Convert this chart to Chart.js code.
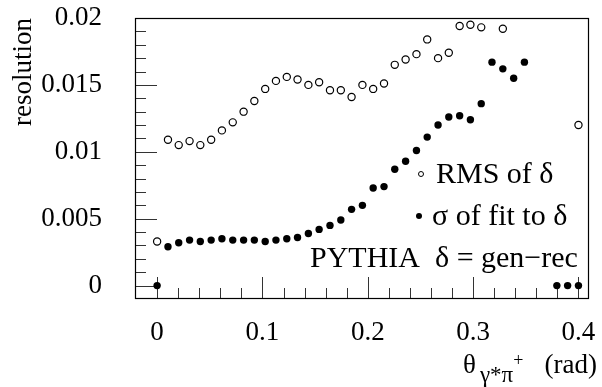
<!DOCTYPE html>
<html>
<head>
<meta charset="utf-8">
<script src="https://cdn.jsdelivr.net/npm/chart.js@4"></script>
<style>
body { margin: 0; background: #fff; }
#wrap { width: 602px; height: 387px; }
</style>
</head>
<body>
<div id="wrap"><canvas id="resChart" width="602" height="387"></canvas></div>
<script>
// Resolution vs theta (PYTHIA)

const theta = [
    0, 0.0103, 0.0205, 0.0308, 0.0410, 0.0513, 0.0615, 0.0718, 0.0821, 0.0923,
    0.1026, 0.1128, 0.1231, 0.1333, 0.1436, 0.1538, 0.1641, 0.1744, 0.1846, 0.1949,
    0.2051, 0.2154, 0.2256, 0.2359, 0.2462, 0.2564, 0.2667, 0.2769, 0.2872, 0.2974,
    0.3077, 0.3179, 0.3282, 0.3385, 0.3487, 0.3590, 0.3692, 0.3795, 0.3897, 0.4000
];

const rmsDelta = [
    0.0033, 0.0109, 0.0105, 0.0108, 0.0105, 0.0109, 0.0116, 0.0122, 0.0130, 0.0138,
    0.0147, 0.0153, 0.0156, 0.0154, 0.0150, 0.0152, 0.0146, 0.0146, 0.0141, 0.0150,
    0.0147, 0.0151, 0.0165, 0.0169, 0.0173, 0.0184, 0.0170, 0.0174, 0.0194, 0.0195,
    0.0193, null, 0.0192, null, null, null, null, null, null, 0.0120
];

const sigmaFit = [
    0, 0.0029, 0.0032, 0.0034, 0.0033, 0.0034, 0.0035, 0.0034, 0.0034, 0.0034,
    0.0033, 0.0034, 0.0035, 0.0036, 0.0039, 0.0042, 0.0045, 0.0049, 0.0057, 0.0060,
    0.0073, 0.0074, 0.0087, 0.0093, 0.0101, 0.0111, 0.0120, 0.0126, 0.0127, 0.0124,
    0.0136, 0.0167, 0.0162, 0.0155, 0.0167, null, null, 0, 0, 0
];

const legendLabels = ["RMS of δ", "σ of fit to δ", "PYTHIA  δ = gen−rec"];

const serif = "'Liberation Serif', 'Times New Roman', serif";

function toPoints(values) {
    return theta.map((t, i) => ({ x: t, y: values[i] }));
}

function fmt(v) {
    return String(parseFloat(v.toFixed(4)));
}

// inner ticks, frame and text
const rootStyle = {
    id: "rootStyle",
    beforeDatasetsDraw(chart) {
        const { ctx, chartArea: a, scales: { x, y } } = chart;
        ctx.save();
        ctx.strokeStyle = "#333";
        ctx.lineWidth = 1;
        ctx.beginPath();
        for (let k = 0; k <= 20; k++) {
            const px = Math.round(x.getPixelForValue(k * 0.02)) + 0.5;
            const len = k % 5 === 0 ? 22 : 11;
            ctx.moveTo(px, a.bottom);
            ctx.lineTo(px, a.bottom - len);
        }
        for (let k = 0; k <= 20; k++) {
            const py = Math.round(y.getPixelForValue(k * 0.001)) + 0.5;
            const len = k % 5 === 0 ? 22 : 11;
            ctx.moveTo(a.left, py);
            ctx.lineTo(a.left + len, py);
        }
        ctx.stroke();
        ctx.strokeStyle = "#000";
        ctx.lineWidth = 1.2;
        ctx.strokeRect(a.left + 0.5, a.top + 0.5, a.width - 1, a.height - 1);
        ctx.restore();
    },
    afterDraw(chart) {
        const ctx = chart.ctx;
        ctx.save();
        ctx.fillStyle = "#000";
        ctx.strokeStyle = "#000";
        ctx.textBaseline = "alphabetic";

        // legend
        ctx.font = "30px " + serif;
        ctx.fillText(legendLabels[0], 436, 183);
        ctx.fillText(legendLabels[1], 432, 225);
        ctx.fillText(legendLabels[2], 310, 267);
        ctx.lineWidth = 1;
        ctx.beginPath();
        ctx.arc(421, 174, 2.5, 0, 2 * Math.PI);
        ctx.stroke();
        ctx.beginPath();
        ctx.arc(419, 216, 3, 0, 2 * Math.PI);
        ctx.fill();

        // x title
        let xpos = 463;
        ctx.font = "27px " + serif;
        ctx.fillText("θ", xpos, 373);
        xpos += ctx.measureText("θ").width + 4;
        ctx.font = "23px " + serif;
        ctx.fillText("γ*π", xpos, 382);
        xpos += ctx.measureText("γ*π").width;
        ctx.font = "18px " + serif;
        ctx.fillText("+", xpos, 366);
        ctx.font = "27px " + serif;
        ctx.textAlign = "right";
        ctx.fillText("(rad)", 597, 373);
        ctx.restore();
    }
};

const chart = new Chart(document.getElementById("resChart"), {
    type: "scatter",
    data: {
        datasets: [
            {
                label: legendLabels[0],
                data: toPoints(rmsDelta),
                pointStyle: "circle",
                pointRadius: 3.6,
                borderWidth: 1.2,
                borderColor: "#000",
                backgroundColor: "rgba(255,255,255,0)"
            },
            {
                label: legendLabels[1],
                data: toPoints(sigmaFit),
                pointStyle: "circle",
                pointRadius: 3.7,
                borderWidth: 0,
                borderColor: "#000",
                backgroundColor: "#000"
            }
        ]
    },
    options: {
        responsive: false,
        animation: false,
        layout: { padding: { top: 18, right: 13, left: 0, bottom: 0 } },
        plugins: {
            legend: { display: false },
            tooltip: { enabled: false }
        },
        scales: {
            x: {
                type: "linear",
                min: -0.021,
                max: 0.41,
                grid: { display: false, drawTicks: false },
                border: { display: false },
                ticks: {
                    stepSize: 0.1,
                    includeBounds: false,
                    padding: 18,
                    color: "#000",
                    font: { family: serif, size: 27 },
                    callback: (v) => fmt(v)
                },
                afterFit: (s) => {
                    s.height = 88;
                    s.paddingLeft = 0;
                    s.paddingRight = 0;
                }
            },
            y: {
                min: -0.001,
                max: 0.02,
                grid: { display: false, drawTicks: false },
                border: { display: false },
                title: {
                    display: true,
                    text: "resolution",
                    align: "end",
                    color: "#000",
                    padding: { top: 8, bottom: 0 },
                    font: { family: serif, size: 27 }
                },
                ticks: {
                    stepSize: 0.005,
                    includeBounds: false,
                    padding: 33,
                    color: "#000",
                    font: { family: serif, size: 27 },
                    callback: (v) => fmt(v)
                },
                afterFit: (s) => {
                    s.width = 135;
                    s.paddingTop = 0;
                    s.paddingBottom = 0;
                }
            }
        }
    },
    plugins: [rootStyle]
});
</script>
</body>
</html>
